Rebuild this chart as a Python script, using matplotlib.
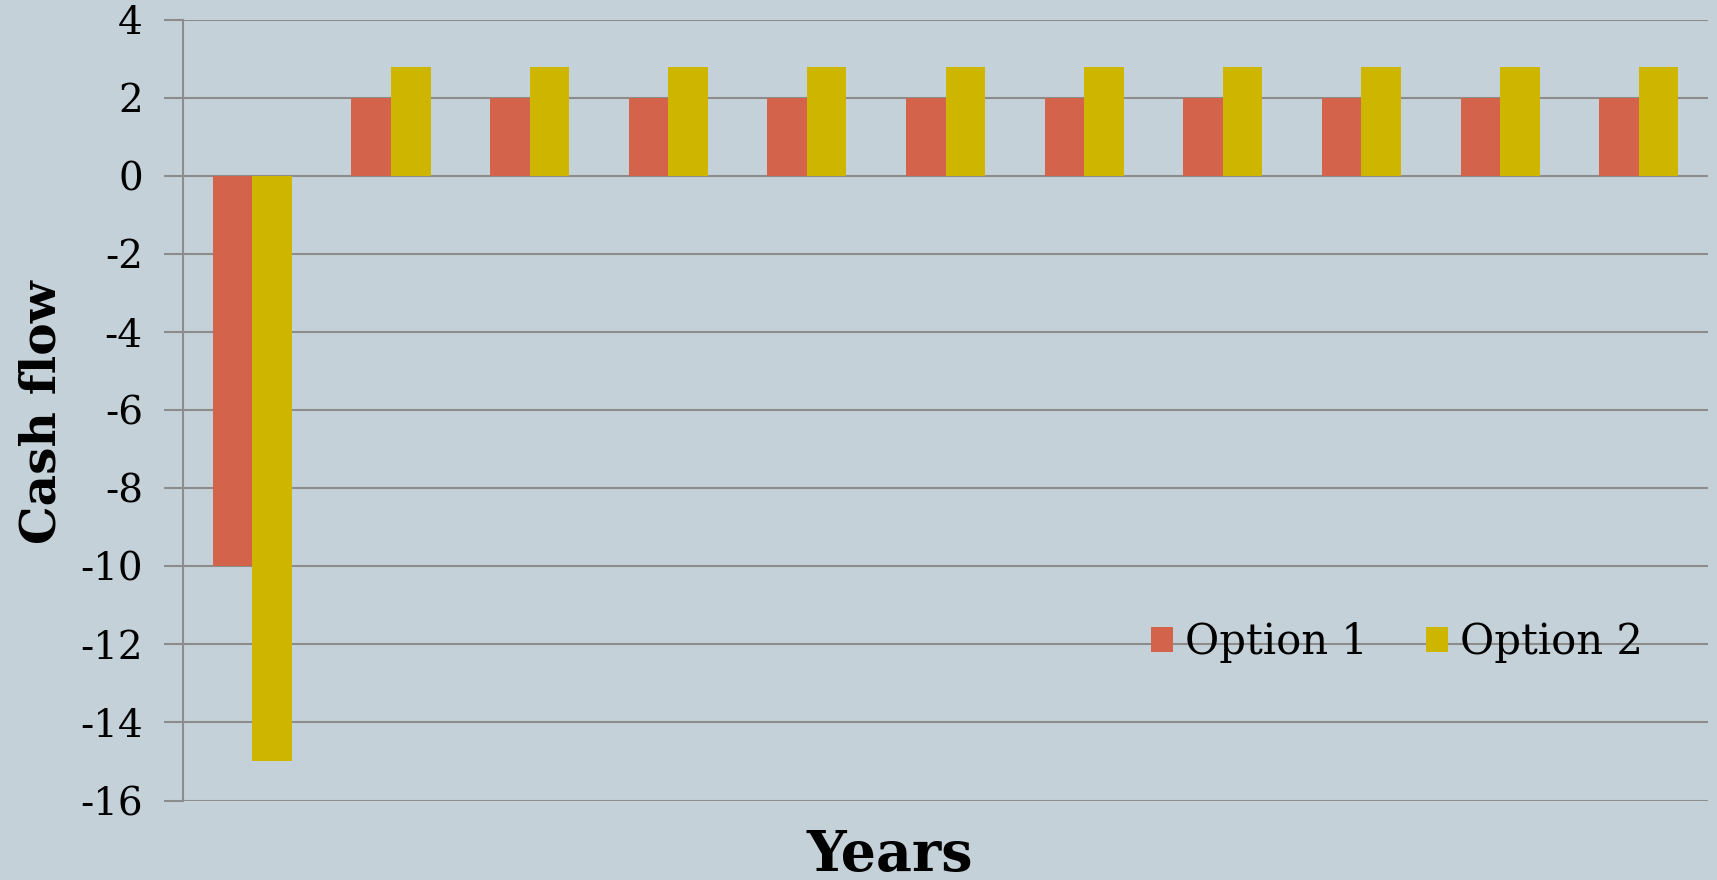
import matplotlib
matplotlib.use("Agg")
import matplotlib.pyplot as plt
import numpy as np

years = list(range(11))
option1 = [-10, 2, 2, 2, 2, 2, 2, 2, 2, 2, 2]
option2 = [-15, 2.8, 2.8, 2.8, 2.8, 2.8, 2.8, 2.8, 2.8, 2.8, 2.8]
yticks = [4, 2, 0, -2, -4, -6, -8, -10, -12, -14, -16]

bg = "#C5D1D8"
c1 = "#D3634A"
c2 = "#CDB500"
grid_c = "#8C8C8C"

plt.rcParams["font.family"] = ["DejaVu Serif"]

fig = plt.figure(figsize=(17.17, 8.8), dpi=100, facecolor=bg)
ax = fig.add_axes([0.1066, 0.0903, 0.8882, 0.8873], facecolor=bg)

x = np.arange(len(years))
w = 0.285
ax.bar(x - w / 2, option1, w, color=c1, label="Option 1", zorder=3)
ax.bar(x + w / 2, option2, w, color=c2, label="Option 2", zorder=3)

ax.set_xlim(-0.5, len(years) - 0.5)
ax.set_ylim(-16, 4)
ax.set_yticks(yticks)
ax.set_yticklabels([str(v) for v in yticks], fontsize=28)
ax.set_xticks([])

ax.grid(axis="y", color=grid_c, linewidth=1.5, zorder=0)
for s in ["top", "right", "bottom"]:
    ax.spines[s].set_visible(False)
ax.spines["left"].set_color(grid_c)
ax.spines["left"].set_linewidth(1.5)
ax.tick_params(axis="y", direction="out", length=14, width=1.5, color=grid_c, pad=15)

ax.set_ylabel("Cash flow", fontsize=35, fontweight="bold")
ax.yaxis.set_label_coords(-0.077, 0.497)
fig.text(0.518, 0.028, "Years", fontsize=40, fontweight="bold", ha="center", va="center")

ax.legend(loc="center", bbox_to_anchor=(0.796, 0.203), ncol=2, frameon=False,
          fontsize=30, handlelength=0.52, handleheight=0.55, handletextpad=0.29,
          columnspacing=1.4)

fig.savefig("out.png", dpi=100, facecolor=bg)
